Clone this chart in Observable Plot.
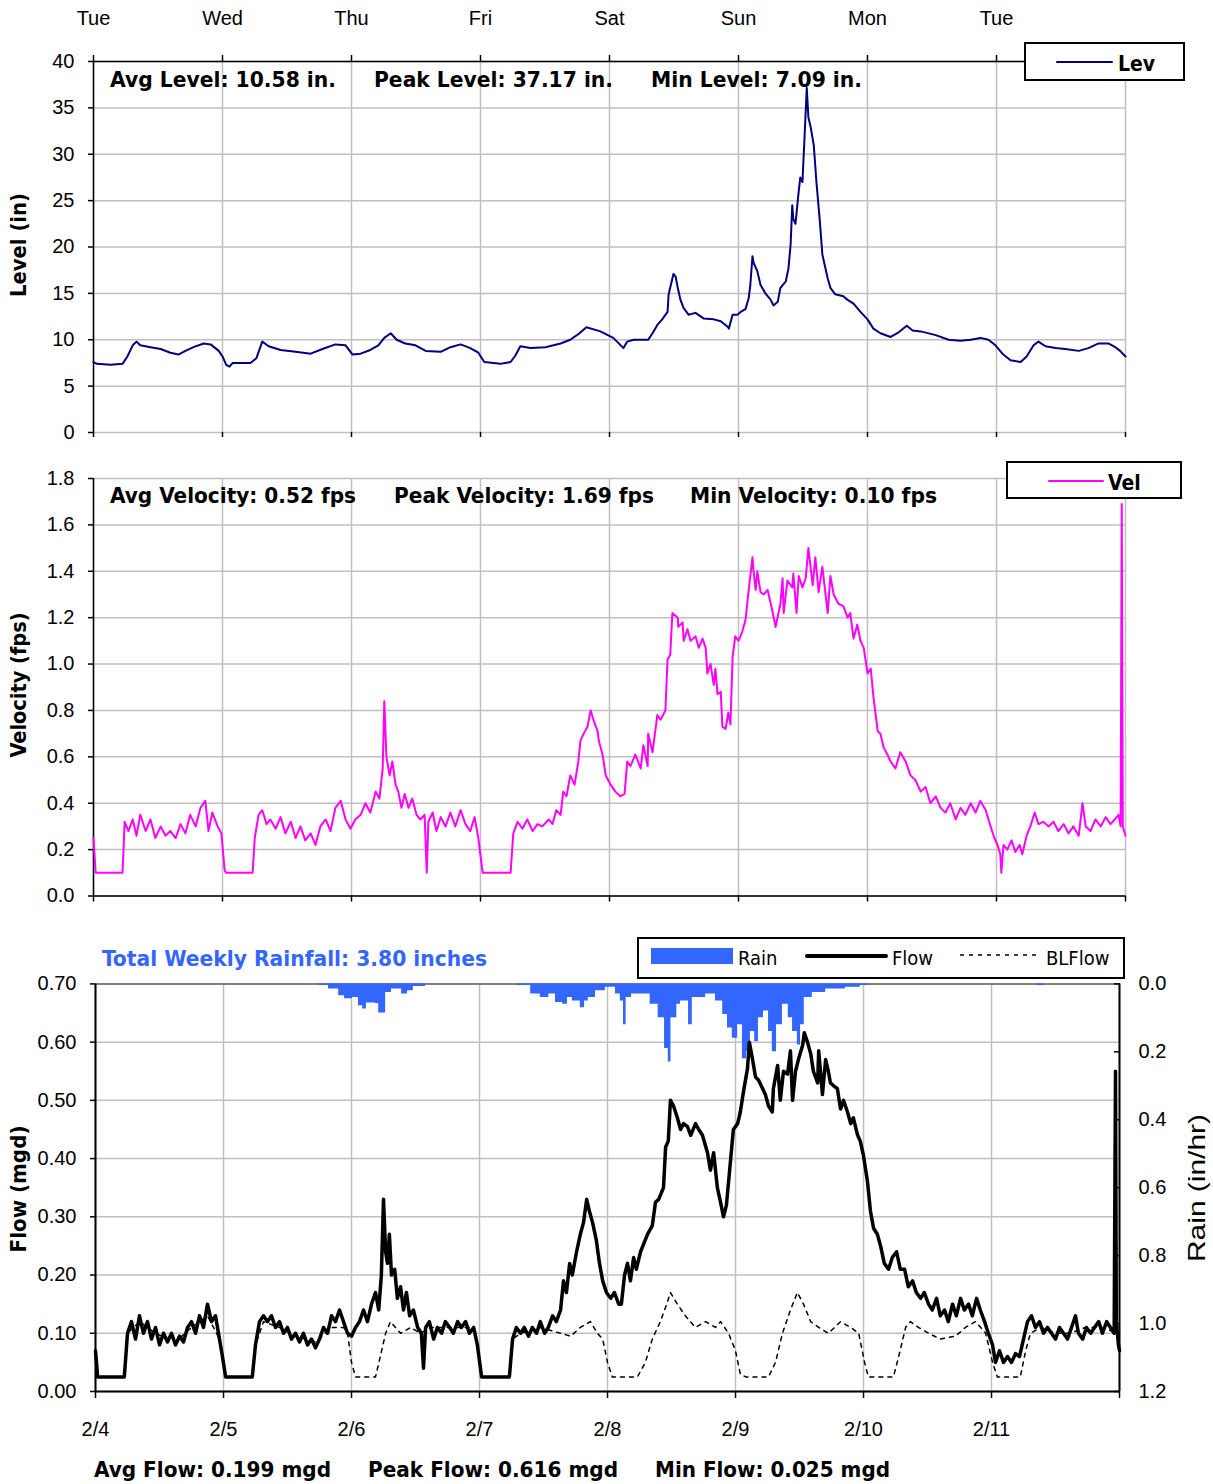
<!DOCTYPE html>
<html><head><meta charset="utf-8">
<script src="https://cdn.jsdelivr.net/npm/d3@7"></script>
<script src="https://cdn.jsdelivr.net/npm/@observablehq/plot@0.6"></script>
<style>
body{margin:0;background:#fff;}
#wrap{position:relative;width:1213px;height:1484px;overflow:hidden;background:#fff;}
#wrap svg{max-width:none;}
</style></head><body><div id="wrap"></div>
<script>
// ---------- axis / tick data ----------
const dayTicks = [0,24,48,72,96,120,144,168,192];           // hours from 2/4 00:00
const dayNames = ["Tue","Wed","Thu","Fri","Sat","Sun","Mon","Tue"];
const dateLabels = ["2/4","2/5","2/6","2/7","2/8","2/9","2/10","2/11"];
const levelTicks = [0,5,10,15,20,25,30,35,40];
const velTicks = [0,0.2,0.4,0.6,0.8,1.0,1.2,1.4,1.6,1.8];
const flowTicks = [0,0.1,0.2,0.3,0.4,0.5,0.6,0.7];
const rainTicks = [0,0.2,0.4,0.6,0.8,1.0,1.2];

// ---------- Level (in) ----------
const levelH = [0,0.6,3.2,5.4,6.3,7.3,8.0,8.7,10.6,12.5,14.3,15.8,17.1,18.6,20.5,21.8,23.3,24.0,24.7,25.3,25.9,29.2,30.3,31.4,32.6,34.8,37.6,40.4,42.6,45.0,46.9,48.2,49.7,51.5,53.0,54.1,55.3,56.4,58.0,59.9,61.8,64.6,66.4,68.3,70.1,71.6,72.7,75.7,77.6,78.5,79.4,81.3,84.1,86.9,88.7,90.2,91.7,94.3,96.7,98.6,99.3,100.5,103.2,104.0,104.9,105.8,106.8,107.0,107.7,107.9,108.3,108.7,109.2,109.8,110.7,112.0,113.5,115.4,116.7,118.0,118.2,118.9,119.8,120.4,121.3,121.9,122.2,122.6,122.8,123.5,124.1,125.0,126.0,126.5,127.3,127.8,128.8,129.3,129.7,130.0,130.2,130.6,131.2,131.5,131.9,132.3,132.7,133.0,133.4,134.0,134.5,135.1,135.6,136.6,137.1,138.0,139.5,140.3,141.4,142.7,144.0,145.1,146.4,148.3,149.8,151.3,152.4,153.9,156.7,159.1,161.3,163.2,165.0,166.5,167.8,169.1,170.6,172.5,173.6,174.9,175.8,177.1,179.0,180.8,183.3,185.1,187.0,188.8,190.1,191.0,192.0];
const levelV = [7.6,7.4,7.3,7.4,8.2,9.4,9.8,9.4,9.2,9.0,8.6,8.4,8.8,9.2,9.6,9.5,8.8,8.2,7.3,7.1,7.5,7.5,8.0,9.8,9.3,8.9,8.7,8.5,9.0,9.5,9.4,8.4,8.5,8.9,9.4,10.2,10.7,10.0,9.6,9.4,8.8,8.7,9.2,9.5,9.1,8.6,7.6,7.4,7.6,8.3,9.3,9.1,9.2,9.6,10.0,10.6,11.35,10.9,10.2,9.1,9.8,10.0,10.0,10.7,11.6,12.2,13.0,14.9,16.6,17.1,16.8,15.6,14.3,13.4,12.7,12.9,12.3,12.2,12.0,11.4,11.2,12.7,12.7,13.0,13.3,14.5,15.9,19.0,18.3,17.4,15.9,15.0,14.3,13.7,14.1,15.6,16.3,17.7,20.3,24.5,23.0,22.5,26.0,27.5,27.0,32.0,37.17,34.0,33.0,31.0,27.0,23.0,19.2,16.6,15.6,14.9,14.7,14.3,13.9,13.0,12.2,11.2,10.7,10.3,10.8,11.5,11.0,10.9,10.5,10.0,9.9,10.0,10.2,10.0,9.4,8.5,7.8,7.6,8.2,9.4,9.8,9.3,9.1,9.0,8.8,9.1,9.6,9.6,9.2,8.8,8.2];

// ---------- Velocity (fps) ----------
const velH = [0,0.4,5.4,5.8,6.5,7.3,8.0,8.7,9.7,10.6,11.5,12.5,13.4,14.3,15.3,16.2,17.1,18.0,19.0,19.9,20.8,21.4,22.1,23.1,23.8,24.4,24.7,29.6,30.0,30.7,31.4,32.2,32.9,33.9,34.8,35.7,36.7,37.6,38.5,39.4,40.4,41.3,42.2,43.2,44.1,45.0,46.0,46.9,47.8,48.7,49.7,50.6,51.5,52.5,53.2,53.8,54.1,54.5,55.1,55.6,56.2,56.7,57.3,57.9,58.6,59.3,60.1,60.8,61.6,62.0,62.3,63.1,63.8,64.6,65.5,66.4,67.3,68.3,69.2,70.1,70.9,71.6,72.4,77.6,78.1,78.9,79.8,80.7,81.7,82.6,83.5,84.7,85.4,86.1,86.9,87.4,88.0,88.7,89.5,90.2,90.6,91.2,91.9,92.5,93.0,93.8,94.0,94.7,95.3,96.2,97.1,98.0,98.8,99.3,99.9,100.8,101.8,102.3,103.1,103.2,104.0,104.9,105.5,106.4,106.8,107.3,107.7,108.7,108.8,109.6,109.8,110.5,111.1,112.0,112.6,113.3,113.9,114.2,114.8,115.4,115.7,116.1,116.7,117.0,117.6,118.1,118.5,118.9,119.4,120.0,120.7,121.3,121.9,122.6,122.8,123.2,123.5,124.1,124.7,125.4,126.3,126.9,127.8,128.2,128.4,129.1,130.0,130.2,130.8,131.2,131.9,132.5,133.0,133.8,134.3,134.9,135.6,136.6,137.1,137.7,138.6,139.5,140.3,140.8,141.4,142.1,142.7,143.3,144.0,144.6,145.1,145.9,146.4,147.0,147.7,148.3,149.2,150.1,151.1,152.0,152.9,153.9,154.8,155.7,156.7,157.6,158.5,159.4,160.4,161.3,162.2,163.2,164.1,165.0,166.0,166.9,167.6,168.2,168.7,168.9,169.3,170.0,170.8,171.5,172.3,172.8,173.6,174.3,175.1,175.8,176.7,177.7,178.6,179.5,180.5,181.4,182.3,183.3,184.0,184.6,185.5,186.4,187.4,188.3,189.2,190.0,190.7,191.1,191.3,191.5,192.0];
const velV = [0.25,0.10,0.10,0.32,0.28,0.33,0.26,0.35,0.28,0.33,0.25,0.30,0.26,0.28,0.25,0.31,0.27,0.35,0.30,0.38,0.41,0.28,0.36,0.30,0.27,0.11,0.10,0.10,0.25,0.35,0.37,0.31,0.33,0.29,0.34,0.27,0.32,0.25,0.30,0.24,0.27,0.22,0.30,0.33,0.28,0.38,0.41,0.33,0.29,0.33,0.35,0.40,0.36,0.45,0.42,0.55,0.84,0.60,0.52,0.58,0.48,0.45,0.38,0.44,0.38,0.42,0.35,0.33,0.35,0.10,0.32,0.36,0.28,0.34,0.30,0.36,0.30,0.37,0.31,0.28,0.34,0.25,0.10,0.10,0.27,0.32,0.29,0.33,0.28,0.31,0.30,0.33,0.31,0.37,0.35,0.45,0.43,0.52,0.48,0.58,0.67,0.70,0.73,0.80,0.76,0.71,0.67,0.61,0.52,0.48,0.45,0.43,0.44,0.58,0.56,0.61,0.55,0.65,0.56,0.70,0.62,0.78,0.76,0.80,1.02,1.04,1.22,1.20,1.16,1.18,1.10,1.15,1.10,1.12,1.07,1.11,1.07,0.96,1.00,0.91,0.98,0.87,0.88,0.73,0.72,0.79,0.74,1.03,1.12,1.10,1.14,1.19,1.32,1.46,1.40,1.32,1.40,1.31,1.30,1.32,1.23,1.16,1.26,1.37,1.22,1.36,1.33,1.39,1.22,1.38,1.33,1.37,1.50,1.34,1.46,1.31,1.42,1.22,1.38,1.30,1.26,1.25,1.20,1.22,1.11,1.17,1.10,1.07,0.96,0.98,0.86,0.71,0.70,0.64,0.61,0.58,0.55,0.62,0.58,0.52,0.50,0.45,0.47,0.40,0.43,0.38,0.36,0.40,0.33,0.38,0.35,0.40,0.36,0.41,0.37,0.30,0.25,0.22,0.18,0.10,0.22,0.20,0.24,0.19,0.22,0.18,0.26,0.30,0.36,0.31,0.32,0.30,0.32,0.28,0.31,0.27,0.30,0.26,0.40,0.30,0.28,0.33,0.30,0.34,0.31,0.33,0.35,0.30,1.69,0.30,0.26];

// ---------- Flow (mgd) ----------
const flowH = [0,0.4,5.4,6.0,6.75,7.5,8.25,9.0,9.75,10.5,11.25,12.0,12.75,13.5,14.25,15.0,15.75,16.5,17.25,18.0,18.75,19.5,20.25,21.0,21.75,22.5,23.25,23.8,24.4,29.4,30.0,30.75,31.5,32.25,33.0,33.75,34.5,35.25,36.0,36.75,37.5,38.25,39.0,39.75,40.5,41.25,42.0,42.75,43.5,44.25,45.0,45.75,46.5,47.25,48.0,48.75,49.5,50.25,51.0,51.75,52.5,53.1,53.6,54.0,54.4,54.75,55.1,55.5,56.1,56.6,57.2,57.75,58.3,58.9,59.6,60.4,61.1,61.5,61.9,62.6,63.4,64.1,64.9,65.6,66.4,67.1,67.9,68.6,69.4,70.1,70.9,71.6,72.4,77.6,78.2,78.9,79.7,80.4,81.2,81.9,82.7,83.4,84.2,84.9,85.7,86.4,87.2,87.75,88.3,88.9,89.4,90.2,90.9,91.5,92.1,92.6,93.2,93.9,94.5,95.1,95.8,96.6,97.3,98.1,98.6,99.2,99.75,100.3,100.9,101.4,102.2,103.5,104.4,105.0,105.6,106.5,106.9,107.4,107.8,108.4,109.1,109.7,110.25,111.0,111.6,112.5,113.1,113.8,114.75,115.3,115.9,116.6,117.2,117.75,118.3,119.1,119.6,120.4,120.9,121.5,122.25,122.6,123.2,123.75,124.3,125.1,125.6,126.2,126.9,127.1,127.9,128.4,129.0,129.75,130.3,130.7,131.25,131.8,132.6,132.9,133.5,134.1,134.6,135.4,135.6,136.3,136.9,137.4,137.8,138.4,139.1,139.7,140.25,141.0,141.6,142.1,142.9,143.4,144.0,144.75,145.3,145.9,146.6,147.2,147.9,148.7,149.4,150.2,150.9,151.7,152.4,153.2,153.9,154.7,155.4,156.2,156.9,157.7,158.4,159.2,159.9,160.7,161.4,162.2,162.9,163.7,164.4,165.2,165.9,166.7,167.4,168.2,168.75,169.5,170.25,171.0,171.75,172.5,173.25,174.0,174.75,175.5,176.25,177.0,177.75,178.5,179.25,180.0,180.75,181.5,182.25,183.0,183.75,184.3,185.1,185.8,186.6,187.3,188.1,188.8,189.6,190.3,191.0,191.25,191.4,191.8,192.0];
const flowV = [0.07,0.025,0.025,0.10,0.12,0.09,0.13,0.10,0.12,0.09,0.11,0.08,0.10,0.085,0.10,0.08,0.095,0.085,0.11,0.12,0.10,0.13,0.11,0.15,0.12,0.13,0.09,0.06,0.025,0.025,0.08,0.12,0.13,0.12,0.13,0.11,0.12,0.10,0.11,0.09,0.10,0.085,0.10,0.08,0.09,0.075,0.09,0.11,0.10,0.13,0.12,0.14,0.12,0.10,0.095,0.11,0.12,0.14,0.12,0.15,0.17,0.14,0.20,0.33,0.24,0.22,0.27,0.20,0.21,0.16,0.18,0.14,0.17,0.13,0.14,0.11,0.10,0.04,0.11,0.12,0.09,0.11,0.10,0.12,0.11,0.10,0.12,0.11,0.12,0.10,0.11,0.08,0.025,0.025,0.09,0.11,0.10,0.11,0.095,0.11,0.10,0.12,0.10,0.11,0.13,0.12,0.14,0.19,0.17,0.22,0.20,0.24,0.27,0.29,0.33,0.31,0.29,0.26,0.22,0.19,0.17,0.16,0.17,0.15,0.15,0.20,0.22,0.19,0.23,0.21,0.24,0.27,0.285,0.325,0.33,0.35,0.42,0.43,0.50,0.49,0.47,0.45,0.46,0.455,0.44,0.46,0.45,0.44,0.41,0.38,0.41,0.35,0.325,0.30,0.32,0.40,0.45,0.46,0.48,0.515,0.555,0.60,0.57,0.54,0.535,0.52,0.51,0.49,0.48,0.52,0.56,0.50,0.55,0.545,0.585,0.50,0.55,0.57,0.595,0.616,0.60,0.58,0.55,0.53,0.585,0.51,0.57,0.55,0.53,0.525,0.52,0.485,0.50,0.48,0.46,0.47,0.44,0.43,0.405,0.36,0.31,0.28,0.27,0.25,0.22,0.21,0.23,0.24,0.21,0.21,0.18,0.19,0.17,0.16,0.17,0.15,0.14,0.16,0.13,0.14,0.12,0.15,0.13,0.16,0.14,0.15,0.13,0.16,0.14,0.12,0.10,0.08,0.05,0.07,0.05,0.06,0.05,0.065,0.06,0.09,0.12,0.13,0.11,0.12,0.10,0.11,0.10,0.09,0.11,0.10,0.09,0.11,0.13,0.10,0.09,0.11,0.10,0.11,0.12,0.10,0.12,0.11,0.10,0.55,0.12,0.08,0.07];

// ---------- Baseline flow (mgd) ----------
const blH = [0,0.4,5.4,6.0,8.25,11.25,15.0,18.0,21.0,23.25,23.8,24.4,29.4,30.0,31.5,34.5,37.5,41.25,44.25,46.5,47.25,48.0,48.75,52.5,53.4,54.4,55.3,56.25,57.2,59.1,60.9,62.8,65.6,68.4,70.7,71.6,72.4,77.6,78.2,79.7,83.4,87.2,89.1,90.9,92.8,94.1,95.1,96.0,96.9,101.6,103.1,104.4,105.9,107.1,107.8,109.1,110.6,112.5,114.4,116.25,117.2,118.7,120.0,120.9,121.9,126.2,127.5,128.8,130.3,131.6,132.75,134.1,135.6,137.4,139.7,141.6,143.1,144.2,144.9,149.6,150.6,151.9,152.8,154.3,156.2,158.4,161.25,163.1,165.0,166.9,168.2,169.1,173.4,174.4,175.3,177.2,180.0,182.8,185.6,188.4,192.0];
const blV = [0.07,0.025,0.025,0.10,0.12,0.10,0.085,0.11,0.13,0.09,0.06,0.025,0.025,0.08,0.12,0.11,0.095,0.085,0.11,0.11,0.10,0.05,0.025,0.025,0.06,0.10,0.12,0.11,0.10,0.11,0.10,0.11,0.11,0.11,0.11,0.08,0.025,0.025,0.09,0.10,0.11,0.10,0.095,0.11,0.12,0.10,0.09,0.05,0.025,0.025,0.05,0.09,0.12,0.15,0.17,0.15,0.13,0.11,0.12,0.11,0.12,0.10,0.07,0.03,0.025,0.025,0.05,0.10,0.14,0.17,0.15,0.12,0.11,0.10,0.12,0.11,0.10,0.05,0.025,0.025,0.06,0.11,0.12,0.11,0.10,0.09,0.095,0.11,0.12,0.10,0.05,0.025,0.025,0.07,0.10,0.11,0.10,0.10,0.11,0.11,0.10];

// ---------- Rain (in/hr), step values starting at each hour ----------
const rainH = [41.8,43.7,45.6,46.7,48.2,49.3,50.1,50.8,52.5,53.1,54.4,55.5,57.4,58.5,59.6,61.9,
  79.1,81.6,83.4,85.0,86.25,87.6,88.5,89.4,90.9,91.7,92.4,93.75,95.6,97.5,98.4,99.0,99.5,100.5,102.2,104.0,105.5,106.7,107.4,107.9,109.0,109.7,111.2,111.9,112.5,114.4,116.25,117.6,118.5,119.4,120.4,121.3,122.1,122.8,123.6,124.3,125.25,126.2,126.9,127.7,128.8,129.9,130.7,131.6,132.2,132.9,134.4,136.9,140.6,143.4,144.9,
  176.6,177.75];
const rainV = [0.005,0.015,0.035,0.044,0.04,0.064,0.074,0.056,0.058,0.086,0.025,0.015,0.03,0.02,0.008,0,
  0.005,0.03,0.04,0.03,0.055,0.06,0.04,0.05,0.07,0.05,0.04,0.02,0.01,0.03,0.05,0.12,0.04,0.03,0.03,0.06,0.10,0.19,0.23,0.10,0.06,0.05,0.12,0.04,0.04,0.03,0.05,0.09,0.13,0.16,0.12,0.22,0.20,0.14,0.17,0.10,0.08,0.14,0.20,0.12,0.06,0.10,0.14,0.18,0.12,0.04,0.025,0.015,0.01,0.005,0,
  0.005,0];

// ---------- texts ----------
const levelStats = ["Avg Level: 10.58 in.","Peak Level: 37.17 in.","Min Level: 7.09 in."];
const velStats = ["Avg Velocity: 0.52 fps","Peak Velocity: 1.69 fps","Min Velocity: 0.10 fps"];
const flowStats = ["Avg Flow: 0.199 mgd","Peak Flow: 0.616 mgd","Min Flow: 0.025 mgd"];
const rainTotal = "Total Weekly Rainfall: 3.80 inches";

// ---------- build ----------
const rows = (h, v) => h.map((d, i) => ({h: d, v: v[i]}));
const W = 1213;
const GRID = "#c0c0c0";
const NUMFONT = "'Liberation Sans', Arial, sans-serif";
const TXTFONT = "'DejaVu Sans Condensed', 'DejaVu Sans', sans-serif";
const base = {fontFamily: NUMFONT, fontSize: "20px", color: "#000", overflow: "visible", background: "transparent"};
const wrap = document.getElementById("wrap");
function place(svg, top) {
  const d = document.createElement("div");
  d.style.cssText = `position:absolute;left:0;top:${top}px;`;
  d.appendChild(svg);
  wrap.appendChild(d);
}
const blank = () => "";

// Panel 1: Level
place(Plot.plot({
  width: W, height: 450, marginTop: 61, marginBottom: 18, marginLeft: 93, marginRight: 88,
  x: {domain: [0, 192]}, y: {domain: [0, 40]}, style: base,
  marks: [
    Plot.gridX(dayTicks, {stroke: GRID, strokeOpacity: 1, strokeWidth: 1.5}),
    Plot.gridY(levelTicks, {stroke: GRID, strokeOpacity: 1, strokeWidth: 1.5}),
    Plot.axisX(dayTicks.slice(0, 8), {anchor: "top", tickSize: 7, tickPadding: 30, tickFormat: d => dayNames[d / 24], label: null, strokeWidth: 1.5}),
    Plot.axisX(dayTicks, {anchor: "bottom", tickSize: 5, tickFormat: blank, label: null, strokeWidth: 1.5}),
    Plot.axisY(levelTicks, {anchor: "left", tickSize: 5, tickPadding: 14, label: null, strokeWidth: 1.5}),
    Plot.ruleY([40], {stroke: "#000", strokeWidth: 1.5}),
    Plot.ruleX([0], {stroke: "#000", strokeWidth: 1.5}),
    Plot.line(rows(levelH, levelV), {x: "h", y: "v", stroke: "#000080", strokeWidth: 2})
  ]
}), 0);

// Panel 2: Velocity
place(Plot.plot({
  width: W, height: 460, marginTop: 28, marginBottom: 14.5, marginLeft: 93, marginRight: 88,
  x: {domain: [0, 192]}, y: {domain: [0, 1.8]}, style: base,
  marks: [
    Plot.gridX(dayTicks, {stroke: GRID, strokeOpacity: 1, strokeWidth: 1.5}),
    Plot.gridY(velTicks, {stroke: GRID, strokeOpacity: 1, strokeWidth: 1.5}),
    Plot.axisX(dayTicks, {anchor: "bottom", tickSize: 6, tickFormat: blank, label: null, strokeWidth: 1.5}),
    Plot.axisY(velTicks, {anchor: "left", tickSize: 5, tickPadding: 14, tickFormat: d3.format(".1f"), label: null, strokeWidth: 1.5}),
    Plot.ruleY([0], {stroke: "#000", strokeWidth: 1.5}),
    Plot.ruleX([0], {stroke: "#000", strokeWidth: 1.5}),
    Plot.line(rows(velH, velV), {x: "h", y: "v", stroke: "#ff00ff", strokeWidth: 2})
  ]
}), 450);

// Panel 3: Flow + Rain (three stacked layers with identical frames)
const p3 = {width: W, height: 574, marginTop: 73.4, marginBottom: 93, marginLeft: 95, marginRight: 94, style: base};
place(Plot.plot({
  ...p3, x: {domain: [0, 192], axis: null}, y: {domain: [0, 0.7], axis: null},
  marks: [
    Plot.gridX(dayTicks, {stroke: GRID, strokeOpacity: 1, strokeWidth: 1.5}),
    Plot.gridY(flowTicks.slice(0, 7), {stroke: GRID, strokeOpacity: 1, strokeWidth: 1.5}),
    Plot.ruleY([0.7], {stroke: "#808080", strokeWidth: 2})
  ]
}), 910);
place(Plot.plot({
  ...p3, x: {domain: [0, 192], axis: null}, y: {domain: [0, 1.2], reverse: true},
  marks: [
    Plot.areaY(rows(rainH, rainV), {x: "h", y: "v", curve: "step-after", fill: "#3366ff"}),
    Plot.axisY(rainTicks, {anchor: "right", tickSize: 6, dx: -6, tickPadding: 19, tickFormat: d3.format(".1f"), label: null, strokeWidth: 1.5}),
    Plot.ruleX([192], {stroke: "#000", strokeWidth: 2})
  ]
}), 910);
place(Plot.plot({
  ...p3, x: {domain: [0, 192]}, y: {domain: [0, 0.7]},
  marks: [
    Plot.line(rows(blH, blV), {x: "h", y: "v", stroke: "#000", strokeWidth: 1.5, strokeDasharray: "4,5"}),
    Plot.line(rows(flowH, flowV), {x: "h", y: "v", stroke: "#000", strokeWidth: 3.5, strokeLinejoin: "round"}),
    Plot.axisX(dayTicks, {anchor: "bottom", tickSize: 7, tickPadding: 23, tickFormat: d => dateLabels[d / 24] ?? "", label: null, strokeWidth: 1.5}),
    Plot.axisY(flowTicks, {anchor: "left", tickSize: 5, tickPadding: 14, tickFormat: d3.format(".2f"), label: null, strokeWidth: 1.5}),
    Plot.ruleY([0], {stroke: "#000", strokeWidth: 2}),
    Plot.ruleX([0], {stroke: "#000", strokeWidth: 2})
  ]
}), 910);

// ---------- titles, stats and legends ----------
const ann = d3.create("svg").attr("width", W).attr("height", 1484)
  .style("position", "absolute").style("left", "0px").style("top", "0px");
function txt(s, x, y, o = {}) {
  const t = ann.append("text").text(s)
    .attr("font-family", o.family || TXTFONT)
    .attr("font-weight", o.weight || "bold")
    .attr("font-size", o.size || 21)
    .attr("fill", o.fill || "#000")
    .attr("text-anchor", o.anchor || "start");
  if (o.rotate) t.attr("transform", `translate(${x},${y}) rotate(-90)`);
  else t.attr("x", x).attr("y", y);
  if (o.len) t.attr("textLength", o.len).attr("lengthAdjust", "spacingAndGlyphs");
  return t;
}
// stats
[[110, 226], [374, 239], [651, 211]].forEach(([x, l], i) => txt(levelStats[i], x, 87, {len: l}));
[[110, 246], [394, 260], [690, 247]].forEach(([x, l], i) => txt(velStats[i], x, 503, {len: l}));
[[94, 237], [368, 250], [655, 235]].forEach(([x, l], i) => txt(flowStats[i], x, 1477, {len: l}));
txt(rainTotal, 102, 966, {fill: "#3366ff", len: 385});
// axis titles
txt("Level (in)", 26, 245, {rotate: true, anchor: "middle", size: 22, len: 104});
txt("Velocity (fps)", 26, 685, {rotate: true, anchor: "middle", size: 22, len: 145});
txt("Flow (mgd)", 26, 1189, {rotate: true, anchor: "middle", size: 22, len: 127});
txt("Rain (in/hr)", 1205, 1188, {rotate: true, anchor: "middle", size: 24, weight: "normal", family: NUMFONT, len: 148});
// legends
function box(x, y, w, h) {
  ann.append("rect").attr("x", x).attr("y", y).attr("width", w).attr("height", h)
    .attr("fill", "#fff").attr("stroke", "#000").attr("stroke-width", 2);
}
function seg(x1, x2, y, stroke, sw, dash) {
  const l = ann.append("line").attr("x1", x1).attr("x2", x2).attr("y1", y).attr("y2", y)
    .attr("stroke", stroke).attr("stroke-width", sw).attr("stroke-linecap", dash ? "butt" : "round");
  if (dash) l.attr("stroke-dasharray", dash);
}
box(1025, 43, 159, 37); seg(1057, 1112, 62, "#000080", 2); txt("Lev", 1118, 71);
box(1007, 462, 174, 36); seg(1049, 1103, 481, "#ff00ff", 2); txt("Vel", 1108, 490);
box(638, 938, 486, 40);
ann.append("rect").attr("x", 651).attr("y", 948).attr("width", 82).attr("height", 16).attr("fill", "#3366ff");
txt("Rain", 738, 965, {weight: "normal", size: 20});
seg(807, 886, 956, "#000", 4); txt("Flow", 892, 965, {weight: "normal", size: 20});
seg(960, 1037, 955, "#000", 1.5, "4,5"); txt("BLFlow", 1046, 965, {weight: "normal", size: 20});
wrap.appendChild(ann.node());
</script></body></html>
